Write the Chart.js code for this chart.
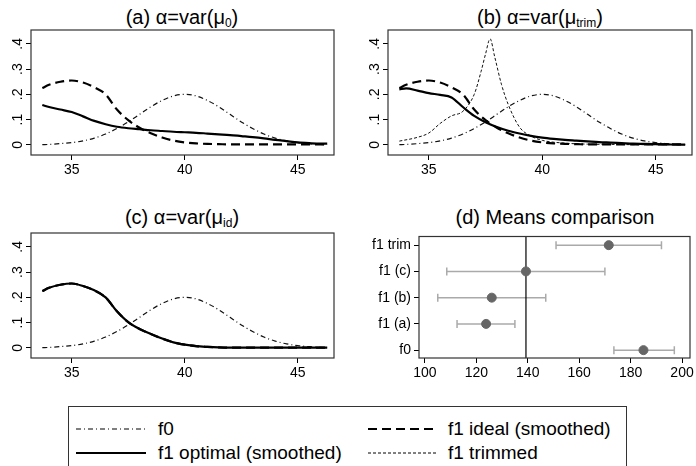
<!DOCTYPE html>
<html>
<head>
<meta charset="utf-8">
<script src="https://cdn.jsdelivr.net/npm/chart.js@4.4.1/dist/chart.umd.min.js"></script>
<style>
body { margin: 0; background: #fff; font-family: "Liberation Sans", Arial, sans-serif; }
#wrap { position: relative; width: 696px; height: 466px; overflow: hidden; background: #fff; }
.ttl { position: absolute; width: 320px; text-align: center; font-size: 20px; line-height: 22px; white-space: nowrap; color: #000; }
.ttl sub { font-size: 12px; vertical-align: -3px; line-height: 0; }
canvas { position: absolute; }
#legend { position: absolute; left: 68px; top: 406px; width: 559px; height: 80px; border: 1px solid #333; box-sizing: border-box; }
.item { position: absolute; height: 22px; font-size: 19px; line-height: 22px; white-space: nowrap; }
.item svg { position: absolute; left: 0; top: 5px; }
.item span { position: absolute; top: 0; }
</style>
</head>
<body>
<div id="wrap">
  <div class="ttl" style="left:22px;top:6px">(a) &alpha;=var(&mu;<sub>0</sub>)</div>
  <div class="ttl" style="left:380px;top:6px">(b) &alpha;=var(&mu;<sub>trim</sub>)</div>
  <div class="ttl" style="left:22px;top:206px">(c) &alpha;=var(&mu;<sub>id</sub>)</div>
  <div class="ttl" style="left:395px;top:206px">(d) Means comparison</div>

  <canvas id="pa" width="345" height="149" style="left:0;top:28px"></canvas>
  <canvas id="pb" width="339" height="149" style="left:357px;top:28px"></canvas>
  <canvas id="pc" width="345" height="149" style="left:0;top:231px"></canvas>
  <canvas id="pd" width="350" height="149" style="left:346px;top:231px"></canvas>

  <div id="legend">
    <div class="item" style="left:7px;top:11px">
      <svg width="72" height="12"><line x1="0" y1="6" x2="70" y2="6" stroke="#000" stroke-width="1.2" stroke-dasharray="5,3,1,3"/></svg>
      <span style="left:82px">f0</span>
    </div>
    <div class="item" style="left:299px;top:11px">
      <svg width="72" height="12"><line x1="0" y1="6" x2="70" y2="6" stroke="#000" stroke-width="2.2" stroke-dasharray="9,5"/></svg>
      <span style="left:80px">f1 ideal (smoothed)</span>
    </div>
    <div class="item" style="left:7px;top:35px">
      <svg width="72" height="12"><line x1="0" y1="6" x2="70" y2="6" stroke="#000" stroke-width="2.2"/></svg>
      <span style="left:82px">f1 optimal (smoothed)</span>
    </div>
    <div class="item" style="left:299px;top:35px">
      <svg width="72" height="12"><line x1="0" y1="6" x2="70" y2="6" stroke="#000" stroke-width="1" stroke-dasharray="3,2"/></svg>
      <span style="left:80px">f1 trimmed</span>
    </div>
  </div>
</div>

<script>
// x grid shared by the smoothed densities
const xs = [33.7, 34, 34.5, 35, 35.5, 36, 36.5, 37, 37.5, 38, 38.5, 39, 39.5, 40,
            40.5, 41, 41.5, 42, 42.5, 43, 43.5, 44, 44.5, 45, 45.5, 46, 46.3];

const f0 = [0.001, 0.002, 0.005, 0.009, 0.016, 0.027, 0.043, 0.065, 0.091, 0.121, 0.151, 0.176, 0.194, 0.200,
            0.194, 0.176, 0.151, 0.121, 0.091, 0.065, 0.043, 0.027, 0.016, 0.009, 0.005, 0.002, 0.001];

const f1Ideal = [0.225, 0.238, 0.250, 0.255, 0.247, 0.228, 0.200, 0.140, 0.098, 0.068, 0.046, 0.029, 0.017, 0.010,
                 0.006, 0.004, 0.003, 0.002, 0.002, 0.002, 0.002, 0.002, 0.002, 0.002, 0.002, 0.002, 0.002];

const f1OptA = [0.158, 0.150, 0.140, 0.130, 0.113, 0.095, 0.082, 0.072, 0.066, 0.062, 0.058, 0.055, 0.052, 0.050,
                0.048, 0.045, 0.042, 0.039, 0.035, 0.031, 0.026, 0.020, 0.015, 0.010, 0.007, 0.005, 0.005];

const f1OptB = [0.220, 0.224, 0.215, 0.205, 0.198, 0.188, 0.150, 0.115, 0.090, 0.071, 0.056, 0.045, 0.036, 0.029,
                0.024, 0.020, 0.017, 0.014, 0.011, 0.009, 0.007, 0.005, 0.004, 0.003, 0.002, 0.001, 0.001];

// in (c) the optimal density is the ideal one
const f1OptC = [0.225, 0.238, 0.250, 0.255, 0.245, 0.228, 0.200, 0.145, 0.102, 0.075, 0.055, 0.037, 0.022, 0.013,
                0.007, 0.004, 0.002, 0.001, 0.001, 0.001, 0.001, 0.001, 0.001, 0.001, 0.001, 0.001, 0.001];

// trimmed density (panel b) has its own x points around the peak
const trimX = [33.7, 34.5, 35, 35.5, 36, 36.5, 37, 37.3, 37.5, 37.7, 37.9, 38.2, 38.5, 39, 39.5, 40, 41, 42, 43, 44, 45, 46.3];
const f1Trim = [0.015, 0.030, 0.047, 0.085, 0.115, 0.133, 0.200, 0.290, 0.360, 0.420, 0.350, 0.240, 0.160, 0.070,
                0.035, 0.018, 0.007, 0.003, 0.002, 0.001, 0.001, 0.001];

const xTicks = [35, 40, 45];
const yTicks = [0, 0.1, 0.2, 0.3, 0.4];

// panel d: means with confidence intervals
const rowLabels = ['f0', 'f1 (a)', 'f1 (b)', 'f1 (c)', 'f1 trim'];
const means  = [185, 123.8, 126, 139.3, 171.5];
const ciLow  = [173.5, 112.5, 105, 108.5, 151];
const ciHigh = [197, 135, 147, 170, 192];
const refLine = 139.3;
const dTicks = [100, 120, 140, 160, 180, 200];

const FONT = '"Liberation Sans", Arial, sans-serif';

const pts = (x, y) => x.map((v, i) => ({ x: v, y: y[i] }));

// box around the plot region
const boxPlugin = {
    id: 'box',
    afterDraw(chart) {
        const a = chart.chartArea, ctx = chart.ctx;
        ctx.save();
        ctx.strokeStyle = '#333';
        ctx.lineWidth = 1.2;
        ctx.strokeRect(a.left, a.top, a.right - a.left, a.bottom - a.top);
        ctx.restore();
    }
};

// Stata-style vertical y labels
const yLabelPlugin = {
    id: 'ylab',
    afterDraw(chart) {
        const s = chart.scales.y, ctx = chart.ctx;
        ctx.save();
        ctx.font = '14px ' + FONT;
        ctx.fillStyle = '#000';
        ctx.textAlign = 'center';
        ctx.textBaseline = 'middle';
        s.ticks.forEach(t => {
            const y = s.getPixelForValue(t.value);
            ctx.save();
            ctx.translate(chart.chartArea.left - 13, y);
            ctx.rotate(-Math.PI / 2);
            ctx.fillText(t.value === 0 ? '0' : String(t.value).replace(/^0/, ''), 0, 0);
            ctx.restore();
        });
        ctx.restore();
    }
};

const gridOpts = { drawOnChartArea: false, drawTicks: true, tickLength: 5, color: '#000', lineWidth: 1 };

// fixed axis sizes so the plot boxes land where they should
const fixW = w => s => { s.width = w; s.paddingTop = 0; s.paddingBottom = 0; };
const fixH = h => s => { s.height = h; s.paddingLeft = 0; s.paddingRight = 0; };

function densityPanel(id, datasets, padRight) {
    new Chart(document.getElementById(id), {
        type: 'line',
        data: { datasets: datasets },
        options: {
            responsive: false,
            animation: false,
            layout: { padding: { top: 2, right: padRight, left: 0, bottom: 0 } },
            plugins: { legend: { display: false }, tooltip: { enabled: false } },
            elements: { point: { radius: 0 }, line: { cubicInterpolationMode: 'monotone' } },
            scales: {
                x: {
                    type: 'linear', min: 33.2, max: 46.6,
                    afterBuildTicks: s => { s.ticks = xTicks.map(v => ({ value: v })); },
                    afterFit: fixH(22),
                    grid: gridOpts, border: { display: false },
                    ticks: { font: { size: 14, family: FONT }, color: '#000', padding: 2, maxRotation: 0 }
                },
                y: {
                    type: 'linear', min: -0.04, max: 0.455,
                    afterBuildTicks: s => { s.ticks = yTicks.map(v => ({ value: v })); },
                    afterFit: fixW(31),
                    grid: gridOpts, border: { display: false },
                    ticks: { display: false }
                }
            }
        },
        plugins: [boxPlugin, yLabelPlugin]
    });
}

const sOpt = d => ({ data: d, borderColor: '#000', borderWidth: 2.2 });
const sIdeal = d => ({ data: d, borderColor: '#000', borderWidth: 2.2, borderDash: [9, 5] });
const sF0 = d => ({ data: d, borderColor: '#111', borderWidth: 1.2, borderDash: [5, 3, 1, 3] });
const sTrim = d => ({ data: d, borderColor: '#111', borderWidth: 1, borderDash: [3, 2] });

densityPanel('pa', [sOpt(pts(xs, f1OptA)), sIdeal(pts(xs, f1Ideal)), sF0(pts(xs, f0))], 11);
densityPanel('pb', [sOpt(pts(xs, f1OptB)), sIdeal(pts(xs, f1Ideal)), sTrim(pts(trimX, f1Trim)), sF0(pts(xs, f0))], 4);
densityPanel('pc', [sOpt(pts(xs, f1OptC)), sIdeal(pts(xs, f1OptC)), sF0(pts(xs, f0))], 11);

// panel d
const dDatasets = [{
    data: means.map((m, i) => ({ x: m, y: i })),
    showLine: false, pointRadius: 4.5, pointBackgroundColor: '#666', pointBorderColor: '#666'
}, {
    data: [{ x: refLine, y: -0.3 }, { x: refLine, y: 4.33 }],
    borderColor: '#000', borderWidth: 1.2, pointRadius: 0
}];
means.forEach((m, i) => {
    dDatasets.push({
        data: [{ x: ciLow[i], y: i }, { x: ciHigh[i], y: i }],
        borderColor: '#aaa', borderWidth: 1.5,
        pointStyle: 'line', rotation: 90, pointRadius: 4, pointBorderColor: '#aaa', pointBorderWidth: 1.5
    });
});

new Chart(document.getElementById('pd'), {
    type: 'line',
    data: { datasets: dDatasets },
    options: {
        responsive: false,
        animation: false,
        layout: { padding: { top: 2, right: 6, left: 0, bottom: 0 } },
        plugins: { legend: { display: false }, tooltip: { enabled: false } },
        scales: {
            x: {
                type: 'linear', min: 97.7, max: 203.1,
                afterBuildTicks: s => { s.ticks = dTicks.map(v => ({ value: v })); },
                afterFit: fixH(22),
                grid: gridOpts, border: { display: false },
                ticks: { font: { size: 14, family: FONT }, color: '#000', padding: 2, maxRotation: 0 }
            },
            y: {
                type: 'linear', min: -0.3, max: 4.33,
                afterBuildTicks: s => { s.ticks = rowLabels.map((l, i) => ({ value: i })); },
                afterFit: fixW(73),
                grid: gridOpts, border: { display: false },
                ticks: { font: { size: 14, family: FONT }, color: '#000', padding: 3, callback: v => rowLabels[v] }
            }
        }
    },
    plugins: [boxPlugin]
});
</script>
</body>
</html>
